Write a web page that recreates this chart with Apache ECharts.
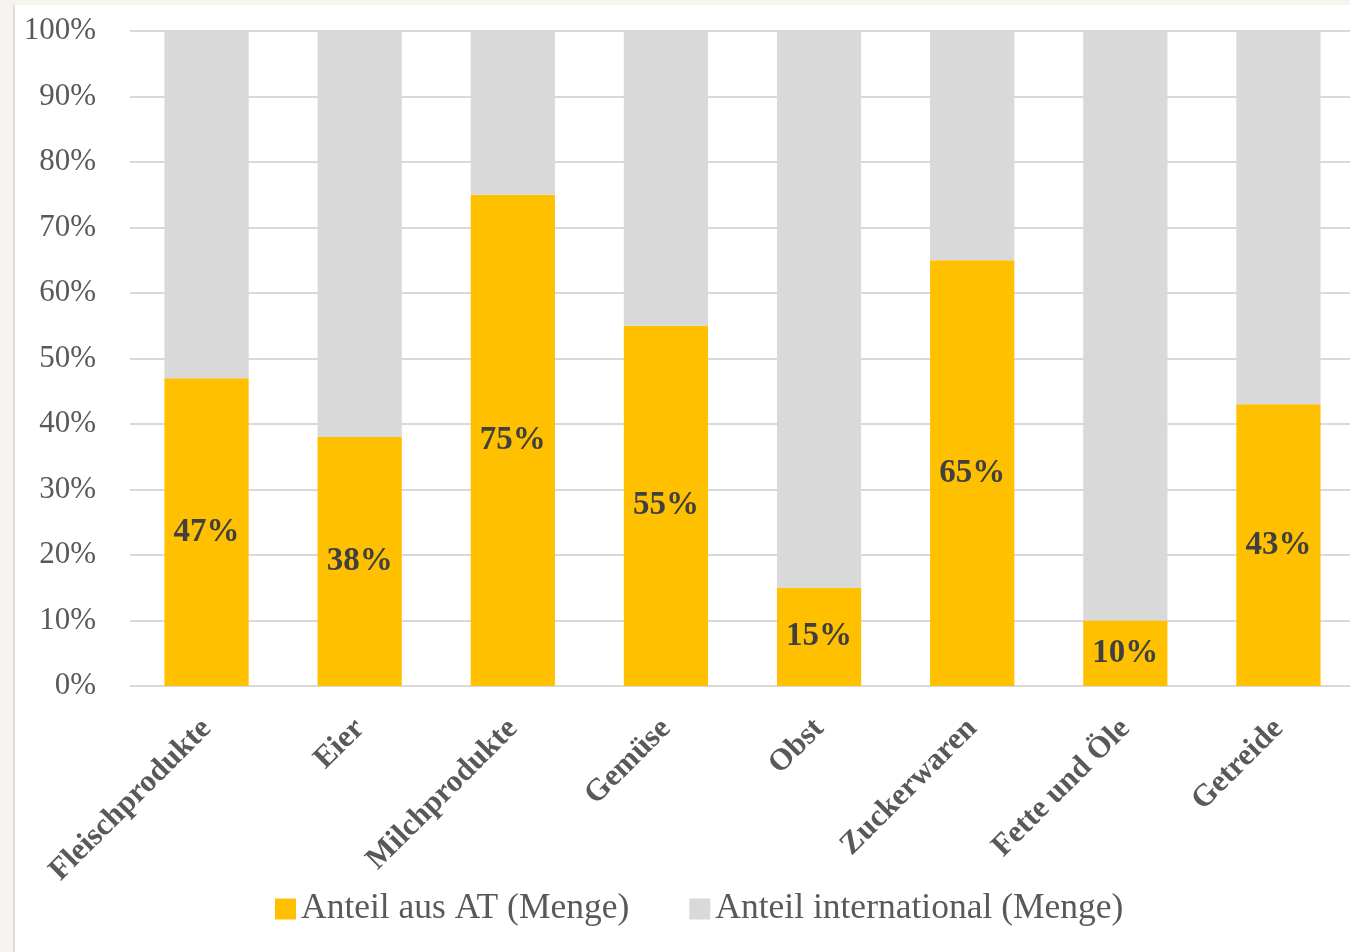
<!DOCTYPE html>
<html>
<head>
<meta charset="utf-8">
<title>Anteil aus AT</title>
<script src="https://cdn.jsdelivr.net/npm/echarts@6/dist/echarts.min.js"></script>
<style>
  html, body { margin: 0; padding: 0; background: #f7f3ef; overflow: hidden; }
  #chart {
    position: absolute; left: 13px; top: 5px;
    width: 1340px; height: 947px;
    background: #fff;
    border-left: 2px solid #dedede;
  }
</style>
</head>
<body>
<div id="chart"></div>
<script>
// Kategorien und Anteile (in %)
const categories = ['Fleischprodukte', 'Eier', 'Milchprodukte', 'Gemüse', 'Obst', 'Zuckerwaren', 'Fette und Öle', 'Getreide'];
const anteilAT = [47, 38, 75, 55, 15, 65, 10, 43];
const anteilInternational = [53, 62, 25, 45, 85, 35, 90, 57];
const yTicks = [0, 10, 20, 30, 40, 50, 60, 70, 80, 90, 100];

const serif = '"Liberation Serif", "DejaVu Serif", serif';

const chart = echarts.init(document.getElementById('chart'));
chart.setOption({
  animation: false,
  textStyle: { fontFamily: serif },
  grid: {
    left: 115,
    right: 0,
    top: 26,
    bottom: 266
  },
  legend: {
    bottom: 20,
    left: 255,
    itemWidth: 21,
    itemHeight: 21,
    itemGap: 60,
    icon: 'rect',
    textStyle: { fontSize: 35.5, color: '#595959', fontFamily: serif },
    data: ['Anteil aus AT (Menge)', 'Anteil international (Menge)']
  },
  xAxis: {
    type: 'category',
    data: categories,
    axisLine: { show: false },
    axisTick: { show: false },
    axisLabel: {
      rotate: 45,
      interval: 0,
      margin: 38,
      fontSize: 31,
      fontWeight: 'bold',
      color: '#595959',
      fontFamily: serif
    }
  },
  yAxis: {
    type: 'value',
    min: 0,
    max: 100,
    interval: 10,
    axisLine: { show: false },
    axisTick: { show: false },
    axisLabel: {
      margin: 34,
      fontSize: 31,
      color: '#595959',
      fontFamily: serif,
      formatter: v => (yTicks.includes(v) ? v + '%' : '')
    },
    splitLine: { lineStyle: { color: '#d9d9d9', width: 2 } }
  },
  series: [
    {
      name: 'Anteil aus AT (Menge)',
      type: 'bar',
      stack: 'gesamt',
      barWidth: '55%',
      itemStyle: { color: '#ffc000' },
      label: {
        show: true,
        position: 'inside',
        formatter: p => p.value + '%',
        fontSize: 33,
        fontWeight: 'bold',
        color: '#404040',
        fontFamily: serif
      },
      data: anteilAT
    },
    {
      name: 'Anteil international (Menge)',
      type: 'bar',
      stack: 'gesamt',
      barWidth: '55%',
      itemStyle: { color: '#d9d9d9' },
      data: anteilInternational
    }
  ]
});
</script>
</body>
</html>
